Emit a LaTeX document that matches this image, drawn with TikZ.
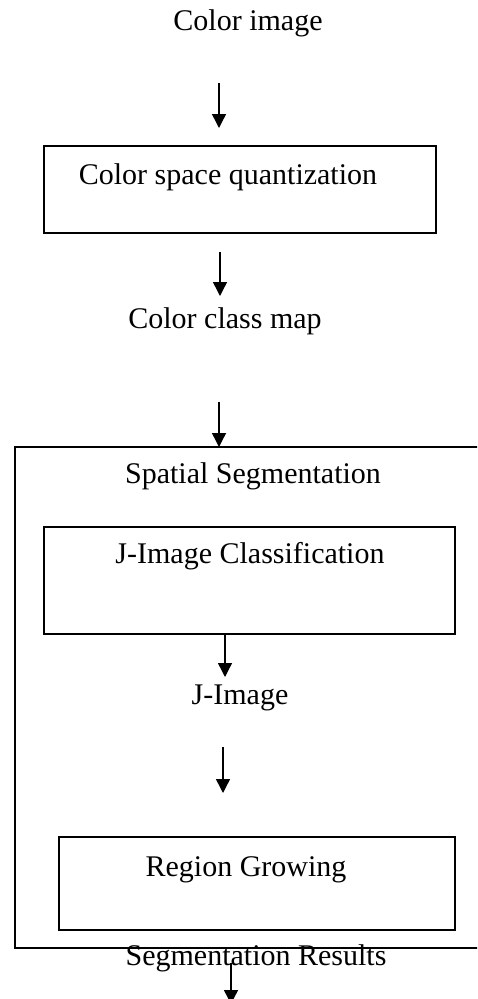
\documentclass[tikz,border=0pt]{standalone}
\usepackage{fontspec}
\setmainfont{Liberation Serif}
\usetikzlibrary{arrows.meta}
\begin{document}
\begin{tikzpicture}[x=1pt,y=-1pt,
  lbl/.style={font=\fontsize{30}{36}\selectfont, anchor=base, inner sep=0pt},
  boxnode/.style={draw, line width=1.4pt, anchor=north west, inner sep=0pt, outer sep=0pt},
  arr/.style={line width=1.4pt, -{Triangle[width=14pt,length=14pt]}},
  frame/.style={line width=1.4pt}]
\useasboundingbox (0,0) rectangle (477,999);
\clip (0,0) rectangle (477,999);
% texts
\node[lbl] (cimg) at (248,30) {Color image};
\node[boxnode, minimum width=392pt, minimum height=87pt] (qbox) at (44,146) {};
\node[lbl] (qtxt) at (228,184) {Color space quantization};
\node[lbl] (cmap) at (225,328) {Color class map};
\node[lbl] (spat) at (253,483) {Spatial Segmentation};
\node[boxnode, minimum width=411pt, minimum height=107pt] (jbox) at (44,527) {};
\node[lbl] (jtxt) at (250,563) {J-Image Classification};
\node[lbl] (jimg) at (240,704) {J-Image};
\node[boxnode, minimum width=396pt, minimum height=93pt] (rbox) at (59,837) {};
\node[lbl] (rtxt) at (246,876) {Region Growing};
\node[lbl] (sres) at (256,965) {Segmentation Results};
% outer open frame
\coordinate (otr) at (480,447);
\coordinate (otl) at (15,447);
\coordinate (obl) at (15,948);
\coordinate (obr) at (480,948);
\draw[frame] (otr) -- (otl) -- (obl) -- (obr);
% arrow endpoints
\coordinate (a1s) at (219,83);  \coordinate (a1e) at (219,128);
\coordinate (a2s) at (220,252); \coordinate (a2e) at (220,296);
\coordinate (a3s) at (219,402); \coordinate (a3e) at (219,447);
\coordinate (a4s) at (225,634); \coordinate (a4e) at (225,677);
\coordinate (a5s) at (223,747); \coordinate (a5e) at (223,793);
\coordinate (a6s) at (231,963); \coordinate (a6e) at (231,1004);
\draw[arr] (a1s) -- (a1e);
\draw[arr] (a2s) -- (a2e);
\draw[arr] (a3s) -- (a3e);
\draw[arr] (a4s) -- (a4e);
\draw[arr] (a5s) -- (a5e);
\draw[arr] (a6s) -- (a6e);
\end{tikzpicture}
\end{document}
